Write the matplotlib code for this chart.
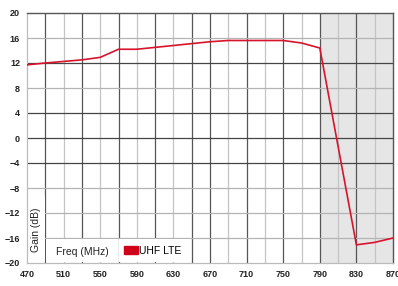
import matplotlib.pyplot as plt
from matplotlib.patches import Rectangle, Patch

# Gain curve of the UHF LTE filter/antenna
freq = [470, 490, 530, 550, 570, 590, 610, 630, 650, 670, 690, 710, 730, 750, 770, 790, 830, 850, 870]
gain = [11.7, 12.0, 12.5, 12.9, 14.2, 14.2, 14.5, 14.8, 15.1, 15.4, 15.6, 15.6, 15.6, 15.6, 15.2, 14.4, -17.1, -16.7, -16.0]

x_ticks = [470, 510, 550, 590, 630, 670, 710, 750, 790, 830, 870]
y_ticks = [20, 16, 12, 8, 4, 0, -4, -8, -12, -16, -20]
dark_v = [490, 530, 570, 610, 650, 670, 710, 750, 790, 830]
light_v = [510, 550, 590, 630, 690, 730, 770, 810, 850]
dark_h = [12, 4, 0, -4]
light_h = [16, 8, -8, -12, -16]
lte_band = (790, 870)

plt.rcParams['font.family'] = ['Liberation Sans', 'DejaVu Sans']

fig = plt.figure(figsize=(3.98, 2.86), dpi=100)
ax = fig.add_axes([27 / 398, 1 - 263 / 286, 366 / 398, 250 / 286])

ax.axvspan(lte_band[0], lte_band[1], color='#e6e6e6', zorder=0, lw=0)

for v in light_v:
    ax.axvline(v, color='#c4c4c4', lw=0.9, zorder=1)
for v in dark_v:
    ax.axvline(v, color='#555555', lw=0.9, zorder=1)
for h in light_h:
    ax.axhline(h, color='#b4b4b4', lw=0.9, zorder=1)
for h in dark_h:
    ax.axhline(h, color='#454545', lw=0.9, zorder=1)

# white label boxes at the bottom
ax.add_patch(Rectangle((470.2, -19.9), 19.2, 10.6, facecolor='white', lw=0, zorder=2))
ax.add_patch(Rectangle((490.6, -19.9), 78.8, 3.7, facecolor='white', lw=0, zorder=2))
ax.add_patch(Rectangle((570.6, -19.9), 78.8, 3.7, facecolor='white', lw=0, zorder=2))

ax.plot(freq, gain, color='#d7142c', lw=1.2, zorder=4)

ax.text(480, -14.6, 'Gain (dB)', rotation=90, ha='center', va='center',
        fontsize=7.5, color='#222222', zorder=5)
ax.text(530, -18.2, 'Freq (MHz)', ha='center', va='center',
        fontsize=7.5, color='#222222', zorder=5)

leg = ax.legend(handles=[Patch(color='#d0021b', label='UHF LTE')],
                loc='center left', bbox_to_anchor=(0.265, 0.048), frameon=False,
                fontsize=7.5, handlelength=1.3, handleheight=0.8,
                handletextpad=0.15, borderpad=0, borderaxespad=0)
leg.set_zorder(5)

ax.set_xlim(470, 870)
ax.set_ylim(-20, 20)
ax.set_xticks(x_ticks)
ax.set_yticks(y_ticks)
ax.tick_params(length=0, labelsize=6.5, labelcolor='#222222', pad=5)
for lab in ax.get_xticklabels() + ax.get_yticklabels():
    lab.set_fontweight('bold')

for side in ['top', 'right']:
    ax.spines[side].set_color('#555555')
    ax.spines[side].set_linewidth(1.0)
for side in ['left', 'bottom']:
    ax.spines[side].set_color('#bbbbbb')
    ax.spines[side].set_linewidth(0.9)

fig.savefig('out.png', dpi=100)
